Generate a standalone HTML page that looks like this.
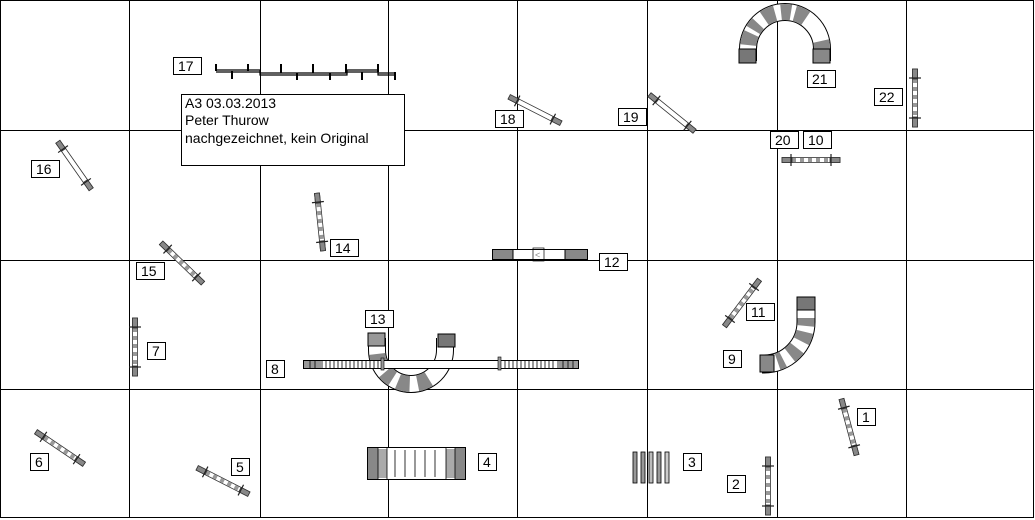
<!DOCTYPE html>
<html><head><meta charset="utf-8"><style>
html,body{margin:0;padding:0;background:#fff;}
svg{display:block;font-family:"Liberation Sans",Arial,sans-serif;}
.lb rect{fill:#fff;stroke:#000;stroke-width:1}
.lb text{font-size:14px;fill:#000}
</style></head><body>
<svg width="1035" height="520" viewBox="0 0 1035 520" xmlns="http://www.w3.org/2000/svg">
<defs>
<g id="J">
<rect x="-29" y="-2.5" width="58" height="5" fill="#fff" stroke="#333" stroke-width="0.8"/>
<rect x="-29" y="-2.5" width="10" height="5" fill="#888" stroke="#333" stroke-width="0.8"/>
<rect x="19" y="-2.5" width="10" height="5" fill="#888" stroke="#333" stroke-width="0.8"/>
<line x1="-20" y1="-6" x2="-20" y2="6" stroke="#222" stroke-width="1.2"/>
<line x1="20" y1="-6" x2="20" y2="6" stroke="#222" stroke-width="1.2"/>
</g>
<g id="JD">
<rect x="-29" y="-2.5" width="58" height="5" fill="#fff" stroke="#333" stroke-width="0.8"/>
<line x1="-19" y1="0" x2="19" y2="0" stroke="#999" stroke-width="4" stroke-dasharray="4 4"/>
<rect x="-29" y="-2.5" width="10" height="5" fill="#888" stroke="#333" stroke-width="0.8"/>
<rect x="19" y="-2.5" width="10" height="5" fill="#888" stroke="#333" stroke-width="0.8"/>
<line x1="-20" y1="-6" x2="-20" y2="6" stroke="#222" stroke-width="1.2"/>
<line x1="20" y1="-6" x2="20" y2="6" stroke="#222" stroke-width="1.2"/>
</g>
</defs>

<g stroke="#000" stroke-width="1">
<rect x="0.5" y="0.5" width="1033" height="517" fill="none"/>
<line x1="129.5" y1="0" x2="129.5" y2="518"/>
<line x1="260.5" y1="0" x2="260.5" y2="518"/>
<line x1="388.5" y1="0" x2="388.5" y2="518"/>
<line x1="517.5" y1="0" x2="517.5" y2="518"/>
<line x1="647.5" y1="0" x2="647.5" y2="518"/>
<line x1="777.5" y1="0" x2="777.5" y2="518"/>
<line x1="906.5" y1="0" x2="906.5" y2="518"/>
<line x1="0" y1="130.5" x2="1034" y2="130.5"/>
<line x1="0" y1="260.5" x2="1034" y2="260.5"/>
<line x1="0" y1="389.5" x2="1034" y2="389.5"/>
</g>

<use href="#J" transform="translate(74.5,165.5) rotate(55)"/>
<use href="#JD" transform="translate(182,263) rotate(44)"/>
<use href="#JD" transform="translate(320,222) rotate(84)"/>
<use href="#J" transform="translate(535,110) rotate(27)"/>
<use href="#J" transform="translate(672,113) rotate(39)"/>
<use href="#JD" transform="translate(915,98) rotate(90)"/>
<use href="#JD" transform="translate(811,160)"/>
<use href="#JD" transform="translate(135,347) rotate(90)"/>
<use href="#JD" transform="translate(742,303) rotate(-53)"/>
<use href="#JD" transform="translate(849,427) rotate(75)"/>
<use href="#JD" transform="translate(768,486) rotate(90)"/>
<use href="#JD" transform="translate(60,448) rotate(34)"/>
<use href="#JD" transform="translate(223,481) rotate(27)"/>

<g stroke="#000" stroke-width="1.2" fill="#fff">
<polyline points="216,70 260,70 260,73 347,73 347,70 378,70 378,73 395,73" fill="none"/>
<polyline points="216,72 260,72 260,75 347,75 347,72 378,72 378,75 395,75" fill="none"/>
<line x1="216" y1="64" x2="216" y2="71" stroke-width="2"/>
<line x1="232" y1="71" x2="232" y2="79" stroke-width="2"/>
<line x1="248" y1="64" x2="248" y2="71" stroke-width="2"/>
<line x1="281" y1="64" x2="281" y2="73" stroke-width="2"/>
<line x1="297" y1="73" x2="297" y2="80" stroke-width="2"/>
<line x1="313" y1="64" x2="313" y2="73" stroke-width="2"/>
<line x1="330" y1="73" x2="330" y2="80" stroke-width="2"/>
<line x1="346" y1="64" x2="346" y2="73" stroke-width="2"/>
<line x1="362" y1="72" x2="362" y2="80" stroke-width="2"/>
<line x1="378" y1="64" x2="378" y2="72" stroke-width="2"/>
<line x1="395" y1="72" x2="395" y2="80" stroke-width="2"/>
</g>

<rect x="181.5" y="94.5" width="223" height="71" fill="#fff" stroke="#000"/>
<text x="185" y="108" font-size="14">A3 03.03.2013</text>
<text x="185" y="125" font-size="14">Peter Thurow</text>
<text x="185" y="143" font-size="14">nachgezeichnet, kein Original</text>

<g transform="translate(785,49)">
<path d="M-37,12 L-37,0 A37,37 0 0 1 37,0 L37,12" fill="none" stroke="#000" stroke-width="18"/>
<path d="M-37,12 L-37,0 A37,37 0 0 1 37,0 L37,12" fill="none" stroke="#fff" stroke-width="16"/>
<path d="M-37,12 L-37,0 A37,37 0 0 1 37,0 L37,12" fill="none" stroke="#888" stroke-width="16" stroke-dasharray="0 16 12 4 8 8 12 6 10 4 12 12"/>
<rect x="-46" y="0" width="17" height="14" fill="#777" stroke="#000"/>
<rect x="28" y="0" width="17" height="14" fill="#888" stroke="#000"/>
</g>

<path d="M806,300 L806,322 A42,42 0 0 1 764,364 L762,364" fill="none" stroke="#000" stroke-width="19"/>
<path d="M806,300 L806,322 A42,42 0 0 1 764,364 L762,364" fill="none" stroke="#fff" stroke-width="17"/>
<path d="M806,300 L806,322 A42,42 0 0 1 764,364 L762,364" fill="none" stroke="#888" stroke-width="17" stroke-dasharray="10 8 8 6 10 8 10 8 6 8"/>
<rect x="797" y="297" width="18" height="13" fill="#777" stroke="#000"/>
<rect x="760" y="355" width="14" height="17" fill="#888" stroke="#000"/>

<path d="M377,338 L377,350 A34,34 0 0 0 445,350 L445,338" fill="none" stroke="#000" stroke-width="18"/>
<path d="M377,338 L377,350 A34,34 0 0 0 445,350 L445,338" fill="none" stroke="#fff" stroke-width="16"/>
<path d="M377,338 L377,350 A34,34 0 0 0 445,350 L445,338" fill="none" stroke="#888" stroke-width="16" stroke-dasharray="0 16 12 8 10 6 12 8 12 60"/>
<rect x="368" y="333" width="17" height="13" fill="#999" stroke="#000"/>
<rect x="438" y="334" width="17" height="13" fill="#777" stroke="#000"/>

<rect x="303.5" y="360.5" width="275" height="8" fill="#fff" stroke="#000"/>
<rect x="304" y="361" width="19" height="7" fill="#999"/>
<rect x="557" y="361" width="21" height="7" fill="#999"/>
<path d="M310,361v7M315,361v7M326,361v7M330,361v7M334,361v7M338,361v7M342,361v7M346,361v7M350,361v7M354,361v7M358,361v7M362,361v7M366,361v7M370,361v7M374,361v7M378,361v7M505,361v7M509,361v7M513,361v7M517,361v7M521,361v7M525,361v7M529,361v7M533,361v7M537,361v7M541,361v7M545,361v7M549,361v7M553,361v7M563,361v7M568,361v7M573,361v7" stroke="#000" stroke-width="0.8"/>
<rect x="381" y="358" width="3" height="12" fill="#999" stroke="#000" stroke-width="0.6"/>
<rect x="498" y="357" width="3" height="13" fill="#999" stroke="#000" stroke-width="0.6"/>

<rect x="492.5" y="249.5" width="95" height="10" fill="#fff" stroke="#000"/>
<rect x="493" y="250" width="20" height="9" fill="#888"/>
<rect x="565" y="250" width="22" height="9" fill="#888"/>
<line x1="513" y1="250" x2="513" y2="259" stroke="#000"/>
<line x1="565" y1="250" x2="565" y2="259" stroke="#000"/>
<rect x="533" y="248" width="11" height="13" fill="none" stroke="#000" stroke-width="0.7"/>
<text x="535" y="258" font-size="9" fill="#888">&lt;</text>

<rect x="367.5" y="447.5" width="98" height="32" fill="#fff" stroke="#000"/>
<rect x="368" y="448" width="10" height="31" fill="#888"/>
<rect x="378" y="449" width="9" height="29" fill="#aaa"/>
<rect x="446" y="449" width="9" height="29" fill="#aaa"/>
<rect x="455" y="448" width="10" height="31" fill="#888"/>
<path d="M378,448v31M387,448v31M395,450v27M405,450v27M415,450v27M425,450v27M435,450v27M446,448v31M455,448v31" stroke="#000" stroke-width="0.8"/>

<g stroke="#000" stroke-width="0.8" fill="#999">
<rect x="633" y="452" width="4" height="31"/>
<rect x="641" y="452" width="4" height="31"/>
<rect x="649" y="452" width="4" height="31" fill="#bbb"/>
<rect x="657" y="452" width="4" height="31"/>
<rect x="665" y="452" width="4" height="31" fill="#ccc"/>
</g>

<g class="lb">
<g transform="translate(173,57)"><rect x="0.5" y="0.5" width="28" height="17"/><text x="5" y="14">17</text></g>
<g transform="translate(495,110)"><rect x="0.5" y="0.5" width="28" height="17"/><text x="5" y="14">18</text></g>
<g transform="translate(618,108)"><rect x="0.5" y="0.5" width="28" height="17"/><text x="5" y="14">19</text></g>
<g transform="translate(31,160)"><rect x="0.5" y="0.5" width="28" height="17"/><text x="5" y="14">16</text></g>
<g transform="translate(136,262)"><rect x="0.5" y="0.5" width="28" height="17"/><text x="5" y="14">15</text></g>
<g transform="translate(330,239)"><rect x="0.5" y="0.5" width="28" height="17"/><text x="5" y="14">14</text></g>
<g transform="translate(599,253)"><rect x="0.5" y="0.5" width="28" height="17"/><text x="5" y="14">12</text></g>
<g transform="translate(365,310)"><rect x="0.5" y="0.5" width="28" height="17"/><text x="5" y="14">13</text></g>
<g transform="translate(266,360)"><rect x="0.5" y="0.5" width="18" height="17"/><text x="5" y="14">8</text></g>
<g transform="translate(147,342)"><rect x="0.5" y="0.5" width="18" height="17"/><text x="5" y="14">7</text></g>
<g transform="translate(746,303)"><rect x="0.5" y="0.5" width="28" height="17"/><text x="5" y="14">11</text></g>
<g transform="translate(723,350)"><rect x="0.5" y="0.5" width="18" height="17"/><text x="5" y="14">9</text></g>
<g transform="translate(770,131)"><rect x="0.5" y="0.5" width="28" height="17"/><text x="5" y="14">20</text></g>
<g transform="translate(803,131)"><rect x="0.5" y="0.5" width="28" height="17"/><text x="5" y="14">10</text></g>
<g transform="translate(807,70)"><rect x="0.5" y="0.5" width="28" height="17"/><text x="5" y="14">21</text></g>
<g transform="translate(874,88)"><rect x="0.5" y="0.5" width="28" height="17"/><text x="5" y="14">22</text></g>
<g transform="translate(857,408)"><rect x="0.5" y="0.5" width="18" height="17"/><text x="5" y="14">1</text></g>
<g transform="translate(727,475)"><rect x="0.5" y="0.5" width="18" height="17"/><text x="5" y="14">2</text></g>
<g transform="translate(683,453)"><rect x="0.5" y="0.5" width="18" height="17"/><text x="5" y="14">3</text></g>
<g transform="translate(478,453)"><rect x="0.5" y="0.5" width="18" height="17"/><text x="5" y="14">4</text></g>
<g transform="translate(231,458)"><rect x="0.5" y="0.5" width="18" height="17"/><text x="5" y="14">5</text></g>
<g transform="translate(30,453)"><rect x="0.5" y="0.5" width="18" height="17"/><text x="5" y="14">6</text></g>
</g>
</svg>
</body></html>
